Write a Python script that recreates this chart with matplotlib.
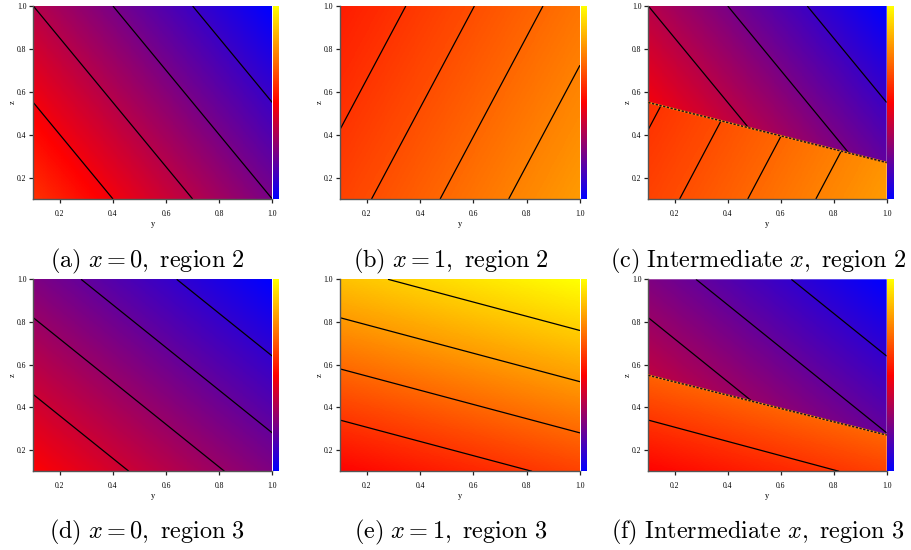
import numpy as np
import matplotlib
matplotlib.use("Agg")
import matplotlib.pyplot as plt
from matplotlib.colors import LinearSegmentedColormap, Normalize
from matplotlib.cm import ScalarMappable
from matplotlib.patches import Polygon

plt.rcParams['mathtext.fontset'] = 'cm'

# ---------------- data ----------------
Y_EDGES = [0.1, 1.0]
Z_EDGES = [0.1, 1.0]
# field values at the corners: rows = z (0.1, 1.0), cols = y (0.1, 1.0)
FIELD_X0_R2 = [[0.60, 0.24], [0.36, 0.00]]
FIELD_X1_R2 = [[0.627, 0.802], [0.552, 0.727]]
FIELD_X0_R3 = [[0.50, 0.25], [0.25, 0.00]]
FIELD_X1_R3 = [[0.50, 0.625], [0.875, 1.00]]
LEVELS_X0_R2 = [0.12, 0.24, 0.36, 0.48]
LEVELS_X1_R2 = [0.60, 0.65, 0.70, 0.75]
LEVELS_X0_R3 = [0.1, 0.2, 0.3, 0.4]
LEVELS_X1_R3 = [0.6, 0.7, 0.8, 0.9]
BOUNDARY_Y = [0.1, 1.0]
BOUNDARY_Z = [0.55, 0.27]
X_TICKS = [0.2, 0.4, 0.6, 0.8, 1.0]
Z_TICKS = [0.2, 0.4, 0.6, 0.8, 1.0]
CAPTIONS = [r'$\mathrm{(a)}\ x=0\mathrm{,\ region\ 2}$',
            r'$\mathrm{(b)}\ x=1\mathrm{,\ region\ 2}$',
            r'$\mathrm{(c)\ Intermediate}\ x\mathrm{,\ region\ 2}$',
            r'$\mathrm{(d)}\ x=0\mathrm{,\ region\ 3}$',
            r'$\mathrm{(e)}\ x=1\mathrm{,\ region\ 3}$',
            r'$\mathrm{(f)\ Intermediate}\ x\mathrm{,\ region\ 3}$']

cmap = LinearSegmentedColormap.from_list('bry', ['#0000ff', '#ff0000', '#ffff00'])
norm = Normalize(0, 1)

W, H = 911, 550
fig = plt.figure(figsize=(W / 100, H / 100), dpi=100)

col_left = [33.3, 340.0, 648.3]
col_w = [239.0, 240.0, 238.4]
row_top = [6.0, 279.3]
row_h = [193.0, 192.0]
cap_x = [147, 451, 758]
cap_y = [261, 532]

serif = ['Liberation Serif', 'DejaVu Serif']
spine_col = '#555555'


def draw_field(ax, field, levels, clip=None):
    y0, y1 = Y_EDGES
    z0, z1 = Z_EDGES
    hy = (y1 - y0) / 2
    hz = (z1 - z0) / 2
    im = ax.imshow(np.array(field), origin='lower', cmap=cmap, norm=norm,
                   extent=[y0 - hy, y1 + hy, z0 - hz, z1 + hz],
                   interpolation='bilinear', interpolation_stage='data',
                   aspect='auto', zorder=1)
    cs = ax.contour(Y_EDGES, Z_EDGES, np.array(field), levels=levels,
                    colors='black', linewidths=0.9, zorder=2)
    if clip is not None:
        p = Polygon(clip, closed=True, transform=ax.transData)
        im.set_clip_path(p)
        cs.set_clip_path(p)


panels = [
    (FIELD_X0_R2, LEVELS_X0_R2, None, None),
    (FIELD_X1_R2, LEVELS_X1_R2, None, None),
    (FIELD_X0_R2, LEVELS_X0_R2, FIELD_X1_R2, LEVELS_X1_R2),
    (FIELD_X0_R3, LEVELS_X0_R3, None, None),
    (FIELD_X1_R3, LEVELS_X1_R3, None, None),
    (FIELD_X0_R3, LEVELS_X0_R3, FIELD_X1_R3, LEVELS_X1_R3),
]

for i, (fu, lu, fl, ll) in enumerate(panels):
    r, c = divmod(i, 3)
    left = col_left[c] / W
    bottom = (H - row_top[r] - row_h[r]) / H
    ax = fig.add_axes([left, bottom, col_w[c] / W, row_h[r] / H])
    if fl is None:
        draw_field(ax, fu, lu)
    else:
        upper = [(BOUNDARY_Y[0], BOUNDARY_Z[0]), (BOUNDARY_Y[1], BOUNDARY_Z[1]),
                 (Y_EDGES[1], Z_EDGES[1]), (Y_EDGES[0], Z_EDGES[1])]
        lower = [(Y_EDGES[0], Z_EDGES[0]), (Y_EDGES[1], Z_EDGES[0]),
                 (BOUNDARY_Y[1], BOUNDARY_Z[1]), (BOUNDARY_Y[0], BOUNDARY_Z[0])]
        draw_field(ax, fu, lu, clip=upper)
        draw_field(ax, fl, ll, clip=lower)
        ax.plot(BOUNDARY_Y, BOUNDARY_Z, color='#ff8c1a', lw=1.3, zorder=3)
        ax.plot(BOUNDARY_Y, BOUNDARY_Z, color='#1a1a1a', lw=1.1,
                linestyle=(0, (1.5, 1.0)), zorder=4)
    ax.set_xlim(Y_EDGES)
    ax.set_ylim(Z_EDGES)
    ax.set_xticks(X_TICKS)
    ax.set_yticks(Z_TICKS)
    ax.set_xticklabels([f'{t:.1f}' for t in X_TICKS], fontfamily=serif, fontsize=5.5)
    ax.set_yticklabels([f'{t:.1f}' for t in Z_TICKS], fontfamily=serif, fontsize=5.5)
    ax.tick_params(direction='out', length=3, width=0.9, color='#222222', pad=2)
    ax.tick_params(axis='x', pad=5)
    for s in ['top', 'right']:
        ax.spines[s].set_visible(False)
    for s in ['left', 'bottom']:
        ax.spines[s].set_color(spine_col)
        ax.spines[s].set_linewidth(1.0)
    ax.set_xlabel('y', fontfamily=serif, fontsize=6, labelpad=1.5)
    ax.set_ylabel('z', fontfamily=serif, fontsize=6, labelpad=0)

    # colour bar strip
    cb_left = (col_left[c] + col_w[c] + 0.5) / W
    cax = fig.add_axes([cb_left, bottom, 6.5 / W, row_h[r] / H])
    cb = fig.colorbar(ScalarMappable(norm=norm, cmap=cmap), cax=cax)
    cb.outline.set_visible(False)
    cax.set_xticks([])
    cax.set_yticks([])

    fig.text(cap_x[c] / W, 1 - cap_y[r] / H, CAPTIONS[i], ha='center', va='center',
             fontsize=17.5)

fig.savefig('out.png', dpi=100)
